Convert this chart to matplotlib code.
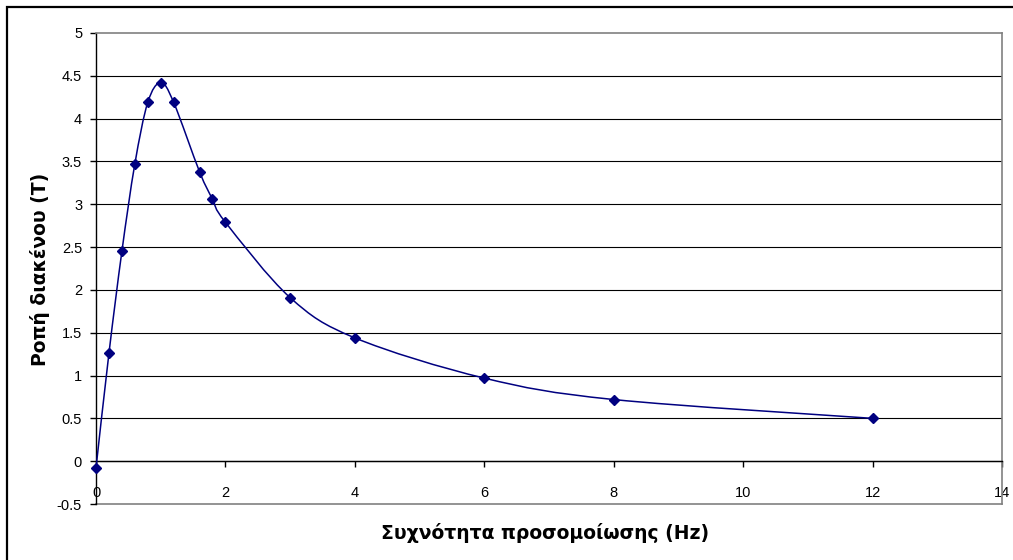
import matplotlib.pyplot as plt
import numpy as np
from matplotlib.patches import PathPatch, Rectangle
from matplotlib.path import Path

# simulation frequency (Hz) and air-gap torque (T)
freq_hz = [0, 0.2, 0.4, 0.6, 0.8, 1.0, 1.2, 1.6, 1.8, 2.0, 3, 4, 6, 8, 12]
torque = [-0.08, 1.26, 2.45, 3.47, 4.19, 4.42, 4.19, 3.38, 3.06, 2.79,
          1.91, 1.44, 0.97, 0.72, 0.50]

x_ticks = [0, 2, 4, 6, 8, 10, 12, 14]
y_ticks = [-0.5, 0, 0.5, 1, 1.5, 2, 2.5, 3, 3.5, 4, 4.5, 5]

X_LABEL = "Συχνότητα προσομοίωσης (Hz)"
Y_LABEL = "Ροπή διακένου (T)"
LINE_COLOR = "#000080"


def smooth_path(x, y):
    # Excel-like smoothed line: Catmull-Rom style Bezier segments
    pts = np.column_stack([x, y]).astype(float)
    padded = np.vstack([pts[0], pts, pts[-1]])
    verts = [pts[0]]
    codes = [Path.MOVETO]
    for i in range(1, len(padded) - 2):
        p0, p1, p2, p3 = padded[i - 1], padded[i], padded[i + 1], padded[i + 2]
        c1 = p1 + (p2 - p0) / 6.0
        c2 = p2 - (p3 - p1) / 6.0
        verts += [c1, c2, p2]
        codes += [Path.CURVE4] * 3
    return Path(verts, codes)


def main():
    fig = plt.figure(figsize=(10.13, 5.6), dpi=100)
    W, H = 1013, 560
    ax = fig.add_axes([96 / W, 1 - 504 / H, (1002 - 96) / W, (504 - 33) / H])

    # outer chart border (only top/left visible in the source)
    fig.patches.append(Rectangle((7 / W, -0.1), 1.2, 1 - 7 / H + 0.1,
                                 transform=fig.transFigure, fill=False,
                                 edgecolor="black", linewidth=1.6))

    ax.set_xlim(0, 14)
    ax.set_ylim(-0.5, 5)

    for yv in y_ticks[1:-1]:
        ax.axhline(yv, color="black", linewidth=0.8, zorder=1)

    for name in ["top", "right"]:
        ax.spines[name].set_color("#808080")
        ax.spines[name].set_linewidth(1.2)
    ax.spines["left"].set_color("black")
    ax.spines["left"].set_linewidth(1.0)
    ax.spines["bottom"].set_position(("data", 0))
    ax.spines["bottom"].set_color("black")
    ax.spines["bottom"].set_linewidth(1.0)
    ax.axhline(-0.5, color="#808080", linewidth=1.2, zorder=1, clip_on=False)

    ax.set_xticks(x_ticks)
    ax.set_yticks(y_ticks)
    ax.set_yticklabels([f"{v:g}" for v in y_ticks])
    ax.tick_params(axis="both", direction="out", length=4, width=1,
                   color="black", labelsize=10.5, labelcolor="black")
    ax.tick_params(axis="x", pad=14)
    ax.tick_params(axis="y", pad=6)
    for lab in ax.get_xticklabels() + ax.get_yticklabels():
        lab.set_fontfamily("Liberation Sans")

    ax.add_patch(PathPatch(smooth_path(freq_hz, torque), facecolor="none",
                           edgecolor=LINE_COLOR, linewidth=1.1, zorder=3))
    ax.plot(freq_hz, torque, linestyle="none", marker="D", markersize=5.5,
            color=LINE_COLOR, zorder=4, clip_on=False)

    fig.text(545 / W, 1 - 533 / H, X_LABEL, ha="center", va="center",
             fontsize=13.5, fontweight="bold", family="DejaVu Sans")
    fig.text(40 / W, 1 - 269 / H, Y_LABEL, ha="center", va="center",
             rotation=90, fontsize=13.5, fontweight="bold", family="DejaVu Sans")

    fig.savefig("out.png", dpi=100)
    plt.close(fig)


if __name__ == "__main__":
    main()
